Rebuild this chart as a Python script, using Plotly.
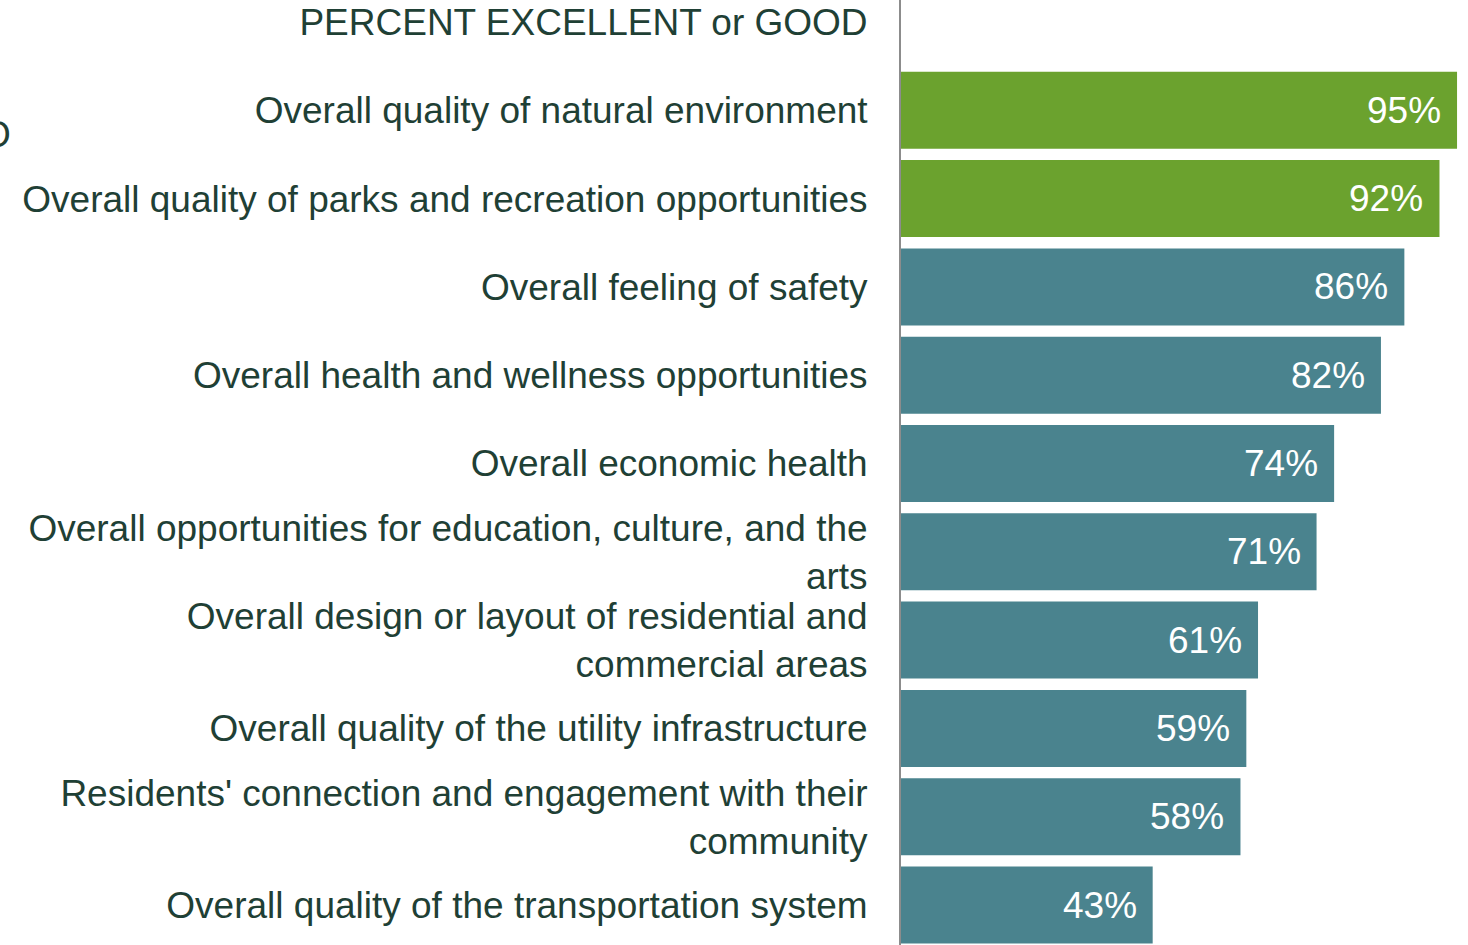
import plotly.graph_objects as go

title_row = "PERCENT EXCELLENT or GOOD"
categories = [
    "Overall quality of natural environment",
    "Overall quality of parks and recreation opportunities",
    "Overall feeling of safety",
    "Overall health and wellness opportunities",
    "Overall economic health",
    "Overall opportunities for education, culture, and the<br>arts",
    "Overall design or layout of residential and<br>commercial areas",
    "Overall quality of the utility infrastructure",
    "Residents' connection and engagement with their<br>community",
    "Overall quality of the transportation system",
]
values = [95, 92, 86, 82, 74, 71, 61, 59, 58, 43]
value_labels = ["95%", "92%", "86%", "82%", "74%", "71%", "61%", "59%", "58%", "43%"]
GREEN = "#6ba22e"
TEAL = "#4a838e"
bar_colors = [GREEN, GREEN] + [TEAL] * 8

TEXT_COLOR = "#1f4035"
FONT = "Liberation Sans, Arial, sans-serif"
FS = 37

all_cats = [title_row] + categories

W, H = 1468, 945
ML = 901
PW = W - ML

fig = go.Figure()
fig.add_trace(go.Bar(
    y=[title_row] + categories,
    x=[None] + values,
    orientation="h",
    marker=dict(color=["rgba(0,0,0,0)"] + bar_colors, line=dict(width=0)),
    hoverinfo="skip",
    showlegend=False,
))

for cat, v, lab in zip(categories, values, value_labels):
    fig.add_annotation(
        x=v, y=cat, xref="x", yref="y", text=lab, showarrow=False,
        xanchor="right", yanchor="middle", xshift=-14,
        font=dict(family=FONT, size=FS, color="white"),
    )

# cropped glyph at far left edge (as in the reference)
fig.add_annotation(
    x=(13 - ML) / PW, y=1 - 135 / H, xref="paper", yref="paper", text="O",
    showarrow=False, xanchor="right", yanchor="middle",
    font=dict(family=FONT, size=FS, color=TEXT_COLOR),
)

fig.update_layout(
    width=W, height=H,
    margin=dict(l=ML, r=0, t=0, b=0, autoexpand=False),
    paper_bgcolor="white", plot_bgcolor="white",
    bargap=0.128,
    hovermode=False,
    font=dict(family=FONT, size=FS, color=TEXT_COLOR),
    xaxis=dict(range=[0, PW / 5.853], showgrid=False, zeroline=False,
               showticklabels=False, ticks="", showline=False,
               automargin=False),
    yaxis=dict(type="category", categoryorder="array", categoryarray=all_cats,
               range=[10.453, -0.249], showgrid=False, zeroline=False,
               showline=True, linecolor="#8c8c8c", linewidth=2,
               ticks="", ticklabelstandoff=24, automargin=False,
               tickfont=dict(family=FONT, size=FS, color=TEXT_COLOR)),
)

fig.write_html(
    "out.html",
    config={"displayModeBar": False},
    post_script="document.body.style.margin='0';document.body.style.overflow='hidden';",
)
